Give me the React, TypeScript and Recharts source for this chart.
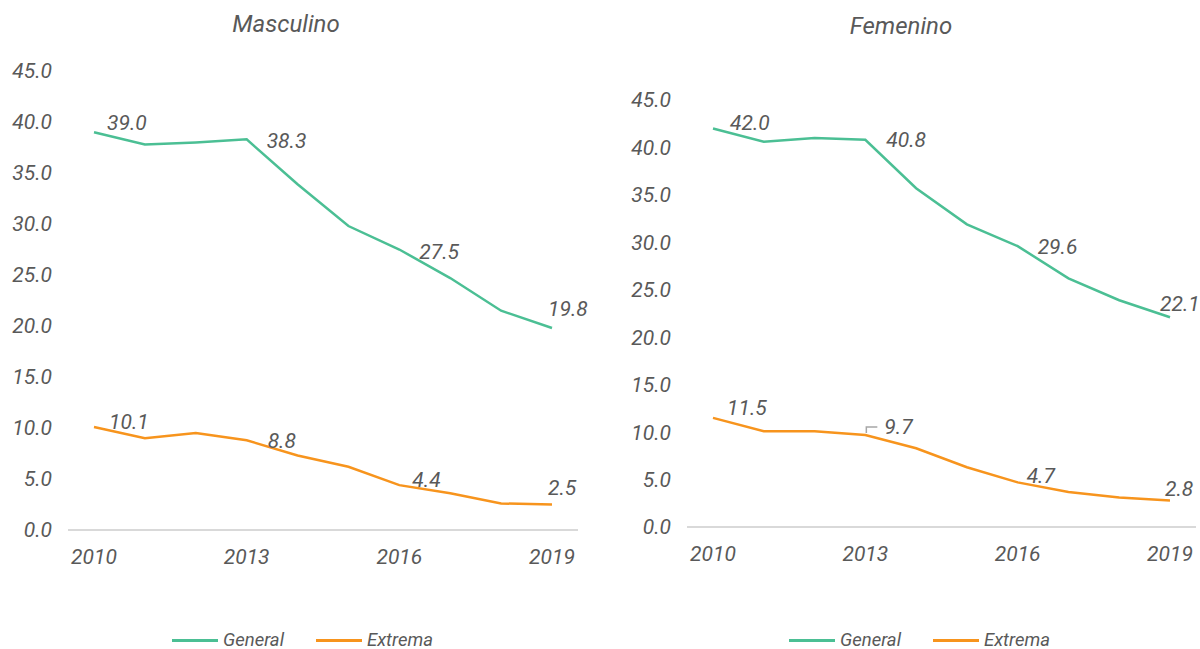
import React from "react";
import { LineChart, Line, XAxis, YAxis, LabelList } from "recharts";

const years = ["2010", "2011", "2012", "2013", "2014", "2015", "2016", "2017", "2018", "2019"];
const masGeneral = [39.0, 37.8, 38.0, 38.3, 33.9, 29.8, 27.5, 24.7, 21.5, 19.8];
const masExtrema = [10.1, 9.0, 9.5, 8.8, 7.3, 6.2, 4.4, 3.6, 2.6, 2.5];
const femGeneral = [42.0, 40.6, 41.0, 40.8, 35.7, 31.9, 29.6, 26.2, 23.9, 22.1];
const femExtrema = [11.5, 10.1, 10.1, 9.7, 8.3, 6.3, 4.7, 3.7, 3.1, 2.8];
const yTicks = [0, 5, 10, 15, 20, 25, 30, 35, 40, 45];
const labelled = [0, 3, 6, 9];

const GREEN = "#4bbf94";
const ORANGE = "#f7941d";
const TEXT = "#595959";
const FONT = "Roboto, sans-serif";

// label offsets (dx, dy to text centre) for the labelled points
const masGenOff = [[13, -10], [20, 1], [20, 2], [-4, -20]];
const masExtOff = [[15, -5], [21, 0], [13, -6], [-4, -17]];
const femGenOff = [[17, -6], [21, 0], [20, 0], [-10, -14]];
const femExtOff = [[14, -10], [19, -8], [9, -7], [-5, -12]];

function makeLabel(offsets: number[][], leaderAt?: number) {
  return (props: any) => {
    const { x, y, value, index } = props;
    const k = labelled.indexOf(index);
    if (k < 0) return null;
    const [dx, dy] = offsets[k];
    return (
      <g>
        {leaderAt === index && (
          <path d={`M${x + 1},${y - 2} V${y - 8} H${x + 12}`} stroke="#a6a6a6" strokeWidth={1.5} fill="none" />
        )}
        <text
          x={x + dx}
          y={y + dy + 7.5}
          fill={TEXT}
          fontSize={21}
          fontStyle="italic"
          fontFamily={FONT}
          textAnchor="start"
        >
          {Number(value).toFixed(1)}
        </text>
      </g>
    );
  };
}

interface PanelProps {
  general: number[];
  extrema: number[];
  genOff: number[][];
  extOff: number[][];
  top: number;
  yWidth: number;
  right: number;
  xHeight: number;
  leader?: number;
}

function Panel({ general, extrema, genOff, extOff, top, yWidth, right, xHeight, leader }: PanelProps) {
  const data = years.map((y, i) => ({ year: y, general: general[i], extrema: extrema[i] }));
  const tick = { fill: TEXT, fontSize: 21, fontStyle: "italic", fontFamily: FONT };
  return (
    <LineChart width={600} height={649} data={data} margin={{ top, right, left: 0, bottom: 0 }}>
      <XAxis
        dataKey="year"
        interval={2}
        padding={{ left: 26, right: 26 }}
        height={xHeight}
        tickLine={false}
        tickSize={0}
        tickMargin={19}
        axisLine={{ stroke: "#d9d9d9", strokeWidth: 2 }}
        tick={tick}
      />
      <YAxis
        domain={[0, 45]}
        ticks={yTicks}
        width={yWidth}
        axisLine={false}
        tickLine={false}
        tickSize={0}
        tickMargin={16}
        tickFormatter={(v: number) => v.toFixed(1)}
        tick={tick}
      />
      <Line dataKey="general" stroke={GREEN} strokeWidth={2.5} dot={false} isAnimationActive={false}>
        <LabelList dataKey="general" content={makeLabel(genOff)} />
      </Line>
      <Line dataKey="extrema" stroke={ORANGE} strokeWidth={2.5} dot={false} isAnimationActive={false}>
        <LabelList dataKey="extrema" content={makeLabel(extOff, leader)} />
      </Line>
    </LineChart>
  );
}

function LegendRow({ left }: { left: number }) {
  const item = (color: string, label: string, ml: number) => (
    <div style={{ display: "flex", alignItems: "center", marginLeft: ml }}>
      <div style={{ width: 46, height: 2.5, background: color, marginRight: 5 }} />
      <span style={{ whiteSpace: "nowrap", paddingRight: 2 }}>{label}</span>
    </div>
  );
  return (
    <div
      style={{
        position: "absolute",
        left,
        top: 632,
        display: "flex",
        fontFamily: FONT,
        fontStyle: "italic",
        fontSize: 18.5,
        color: TEXT,
        lineHeight: "17px",
      }}
    >
      {item(GREEN, "General", 0)}
      {item(ORANGE, "Extrema", 30)}
    </div>
  );
}

const titleStyle: React.CSSProperties = {
  position: "absolute",
  width: 300,
  textAlign: "center",
  fontFamily: FONT,
  fontStyle: "italic",
  fontSize: 24,
  color: TEXT,
  lineHeight: "28px",
};

export default function App() {
  return (
    <div style={{ position: "absolute", left: 0, top: 0, width: 1200, height: 649, background: "#fff" }}>
      <div style={{ position: "absolute", left: 0, top: 0 }}>
        <Panel general={masGeneral} extrema={masExtrema} genOff={masGenOff} extOff={masExtOff} top={71} yWidth={68} right={22} xHeight={119} />
      </div>
      <div style={{ position: "absolute", left: 600, top: 0 }}>
        <Panel general={femGeneral} extrema={femExtrema} genOff={femGenOff} extOff={femExtOff} top={100} yWidth={87} right={4} xHeight={122} leader={3} />
      </div>
      <div style={{ ...titleStyle, left: 136, top: 10 }}>Masculino</div>
      <div style={{ ...titleStyle, left: 751, top: 12 }}>Femenino</div>
      <LegendRow left={172} />
      <LegendRow left={789} />
    </div>
  );
}
